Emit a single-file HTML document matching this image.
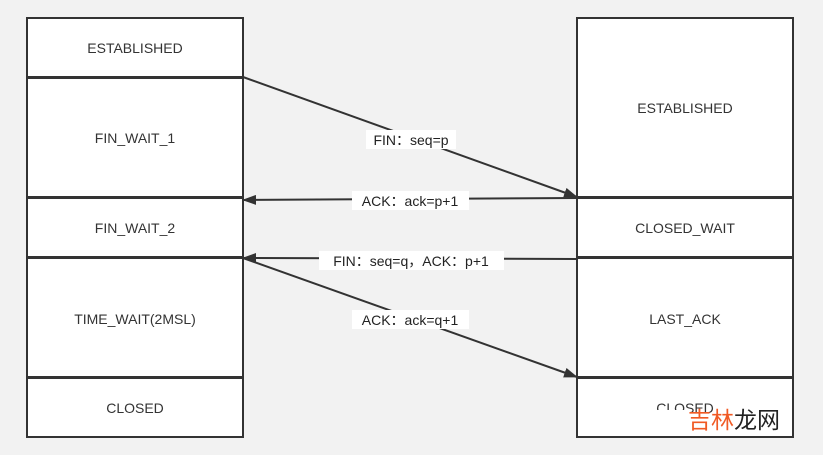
<!DOCTYPE html><html><head><style>body{margin:0;background:#f2f2f2}svg{display:block}</style></head><body>
<svg width="823" height="455" xmlns="http://www.w3.org/2000/svg" font-family="Liberation Sans, sans-serif" font-size="14" fill="#333">
<rect width="823" height="455" fill="#f2f2f2"/>
<defs><marker id="a" markerWidth="14" markerHeight="10" refX="13" refY="5" orient="auto" markerUnits="userSpaceOnUse"><path d="M0,0L14,5L0,10z" fill="#333"/></marker></defs>
<g stroke="#333" stroke-width="2" fill="#fff">
<rect x="27" y="18" width="216" height="59"/><rect x="27" y="78" width="216" height="119"/><rect x="27" y="198" width="216" height="59"/><rect x="27" y="258" width="216" height="119"/><rect x="27" y="378" width="216" height="59"/>
<rect x="577" y="18" width="216" height="179"/><rect x="577" y="198" width="216" height="59"/><rect x="577" y="258" width="216" height="119"/><rect x="577" y="378" width="216" height="59"/>
</g>
<g text-anchor="middle">
<text x="135" y="53">ESTABLISHED</text><text x="135" y="143">FIN_WAIT_1</text><text x="135" y="233">FIN_WAIT_2</text><text x="135" y="324">TIME_WAIT(2MSL)</text><text x="135" y="413">CLOSED</text>
<text x="685" y="113">ESTABLISHED</text><text x="685" y="233">CLOSED_WAIT</text><text x="685" y="324">LAST_ACK</text><text x="685" y="413">CLOSED</text>
</g>
<g stroke="#333" stroke-width="2" fill="none">
<line x1="243" y1="77" x2="577" y2="197" marker-end="url(#a)"/>
<line x1="577" y1="198" x2="243" y2="200" marker-end="url(#a)"/>
<line x1="577" y1="259" x2="243" y2="258" marker-end="url(#a)"/>
<line x1="243" y1="258" x2="577" y2="377" marker-end="url(#a)"/>
</g>
<g fill="#fff"><rect x="366" y="130" width="90" height="19"/><rect x="352" y="191" width="117" height="19"/><rect x="319" y="251" width="185" height="19"/><rect x="352" y="310" width="117" height="19"/></g>
<g text-anchor="middle" fill="#222">
<text x="411" y="145">FIN：seq=p</text><text x="410" y="206">ACK：ack=p+1</text><text x="411" y="266">FIN：seq=q，ACK：p+1</text><text x="410" y="325">ACK：ack=q+1</text>
</g>
<rect x="640" y="410" width="50" height="8" fill="#fff"/>
<text x="688" y="428" font-size="23" font-family="Noto Sans CJK SC, sans-serif"><tspan fill="#f05a24">吉林</tspan><tspan fill="#222">龙网</tspan></text>
</svg></body></html>
